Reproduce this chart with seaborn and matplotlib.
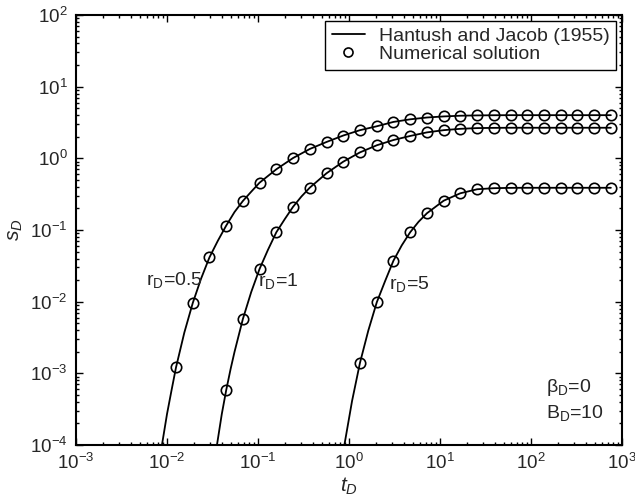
import numpy as np
import pandas as pd
import matplotlib
matplotlib.use("Agg")
import matplotlib.pyplot as plt
import seaborn as sns
from matplotlib.lines import Line2D
from matplotlib.ticker import LogLocator, NullFormatter

# ---------------- data ----------------
# times of the numerical-solution markers (t_D)
t_markers = [0.01256, 0.0192, 0.0293, 0.0447, 0.0682, 0.104, 0.159, 0.243,
             0.371, 0.566, 0.865, 1.32, 2.02, 3.08, 4.70, 7.18, 10.96, 16.7,
             25.6, 39.0, 59.6, 91.0, 139, 212, 324, 494, 755]

# numerical solution (markers), s_D
num_r05 = [1.21e-3, 9.6e-3, 0.0416, 0.115, 0.254, 0.457, 0.703, 1.01, 1.35,
           1.69, 2.08, 2.47, 2.80, 3.22, 3.50, 3.71, 3.84, 3.93, 3.97, 3.99,
           4.0, 4.0, 4.0, 4.0, 4.0, 4.0, 4.0]
num_r1 = [5.8e-4, 5.73e-3, 0.0286, 0.0929, 0.211, 0.390, 0.618, 0.898, 1.21,
          1.52, 1.80, 2.05, 2.30, 2.47, 2.58, 2.64, 2.66, 2.67, 2.67, 2.67,
          2.67, 2.67, 2.67, 2.67]          # starts at t_markers[3]
num_r5 = [1.40e-3, 9.8e-3, 0.0373, 0.0929, 0.171, 0.256, 0.325, 0.370,
          0.383, 0.387, 0.388, 0.388, 0.388, 0.388, 0.388, 0.388]  # starts at t_markers[11]

# analytical solution (Hantush and Jacob, 1955), lines
t_line_r05 = [0.0088, 0.0100, 0.0112, 0.01256, 0.0155, 0.0192, 0.0237, 0.0293,
              0.0362, 0.0447, 0.0552, 0.0682, 0.0842, 0.104, 0.159, 0.243,
              0.371, 0.566, 0.865, 1.32, 2.02, 3.08, 4.70, 7.18, 10.96, 16.7,
              25.6, 39.0, 59.6, 91.0, 139, 212, 324, 494, 755]
s_line_r05 = [1.0e-4, 2.7e-4, 5.75e-4, 1.21e-3, 3.7e-3, 9.6e-3, 0.0210, 0.0416,
              0.0707, 0.115, 0.178, 0.254, 0.342, 0.457, 0.703, 1.01,
              1.35, 1.69, 2.08, 2.47, 2.80, 3.22, 3.50, 3.71, 3.84, 3.93,
              3.97, 3.99, 4.0, 4.0, 4.0, 4.0, 4.0, 4.0, 4.0]

t_line_r1 = [0.0354, 0.040, 0.0447, 0.050, 0.0552, 0.0682, 0.0842, 0.104,
             0.1286, 0.159, 0.197, 0.243, 0.300, 0.371, 0.566, 0.865, 1.32,
             2.02, 3.08, 4.70, 7.18, 10.96, 16.7, 25.6, 39.0, 59.6, 91.0,
             139, 212, 324, 494, 755]
s_line_r1 = [1.0e-4, 2.7e-4, 5.8e-4, 1.15e-3, 1.99e-3, 5.73e-3, 0.0136, 0.0286,
             0.0528, 0.0929, 0.142, 0.211, 0.293, 0.390, 0.618, 0.898, 1.21,
             1.52, 1.80, 2.05, 2.30, 2.47, 2.58, 2.64, 2.66, 2.67, 2.67,
             2.67, 2.67, 2.67, 2.67, 2.67]

t_line_r5 = [0.89, 1.08, 1.32, 1.63, 2.02, 2.49, 3.08, 3.80, 4.70, 5.81, 7.18,
             10.96, 16.7, 25.6, 39.0, 59.6, 91.0, 139, 212, 324, 494, 755]
s_line_r5 = [1.0e-4, 4.1e-4, 1.40e-3, 3.95e-3, 9.8e-3, 0.0193, 0.0373, 0.061,
             0.0929, 0.130, 0.171, 0.256, 0.325, 0.370, 0.383, 0.387, 0.388,
             0.388, 0.388, 0.388, 0.388, 0.388]

curve_labels = ["r$_\\mathrm{D}$=0.5", "r$_\\mathrm{D}$=1", "r$_\\mathrm{D}$=5"]
label_pos = [(0.0059, 0.0171), (0.100, 0.0165), (2.75, 0.0149)]
legend_labels = ["Hantush and Jacob (1955)", "Numerical solution"]
param_text = ["\u03b2$_\\mathrm{D}$=0", "B$_\\mathrm{D}$=10"]
param_pos = [(146, 5.55e-4), (146, 2.36e-4)]

# ---------------- build tables ----------------
lines_df = pd.concat([
    pd.DataFrame({"t": t_line_r05, "s": s_line_r05, "curve": "0.5"}),
    pd.DataFrame({"t": t_line_r1, "s": s_line_r1, "curve": "1"}),
    pd.DataFrame({"t": t_line_r5, "s": s_line_r5, "curve": "5"}),
], ignore_index=True)
num_df = pd.concat([
    pd.DataFrame({"t": t_markers, "s": num_r05, "curve": "0.5"}),
    pd.DataFrame({"t": t_markers[3:], "s": num_r1, "curve": "1"}),
    pd.DataFrame({"t": t_markers[11:], "s": num_r5, "curve": "5"}),
], ignore_index=True)

# ---------------- style ----------------
sns.set_style("ticks")
plt.rcParams["font.family"] = ["Liberation Sans", "DejaVu Sans"]
plt.rcParams["mathtext.fontset"] = "custom"
plt.rcParams["mathtext.rm"] = "Liberation Sans"
plt.rcParams["mathtext.it"] = "Liberation Sans:italic"
plt.rcParams["mathtext.bf"] = "Liberation Sans:bold"

fig = plt.figure(figsize=(6.35, 5.01), dpi=100)
ax = fig.add_axes([0.1197, 0.1118, 0.8598, 0.8583])

for c in ["0.5", "1", "5"]:
    sub = lines_df[lines_df["curve"] == c]
    sns.lineplot(data=sub, x="t", y="s", ax=ax, color="black", lw=1.3,
                 estimator=None, sort=False, legend=False)
    subn = num_df[num_df["curve"] == c]
    sns.lineplot(data=subn, x="t", y="s", ax=ax, color="black", linestyle="",
                 marker="o", markersize=7.5, markerfacecolor="none",
                 markeredgecolor="black", markeredgewidth=1.2,
                 estimator=None, sort=False, legend=False)

ax.set_xscale("log")
ax.set_yscale("log")
ax.set_xlim(1e-3, 1e3)
ax.set_ylim(1e-4, 1e2)

for axis in (ax.xaxis, ax.yaxis):
    axis.set_major_locator(LogLocator(base=10, numticks=20))
    axis.set_minor_locator(LogLocator(base=10, subs=np.arange(2, 10), numticks=100))
    axis.set_minor_formatter(NullFormatter())

ax.tick_params(which="both", direction="in", top=True, right=True,
               color="black", width=1.0)
ax.tick_params(which="major", length=5, labelsize=13.5, pad=6)
ax.tick_params(which="minor", length=2.5)
for sp in ax.spines.values():
    sp.set_visible(True)
    sp.set_linewidth(1.5)
    sp.set_color("black")

ax.set_xlabel("$t_D$", fontsize=15, labelpad=2)
ax.set_ylabel("$s_D$", fontsize=15, labelpad=4)

for txt, (x, y) in zip(curve_labels, label_pos):
    ax.text(x, y, txt, fontsize=14, ha="left", va="baseline")
for txt, (x, y) in zip(param_text, param_pos):
    ax.text(x, y, txt, fontsize=14, ha="left", va="baseline")

handles = [Line2D([], [], color="black", lw=1.3),
           Line2D([], [], color="black", linestyle="", marker="o",
                  markersize=6.5, markerfacecolor="none", markeredgewidth=1.2)]
leg = ax.legend(handles, legend_labels, loc="upper right", fontsize=14,
                frameon=True, fancybox=False, framealpha=1, edgecolor="black",
                borderpad=0.35, labelspacing=0.0, handlelength=1.7,
                handletextpad=0.7, borderaxespad=0.3)
leg.get_frame().set_linewidth(1.0)

fig.savefig("out.png", dpi=100)
